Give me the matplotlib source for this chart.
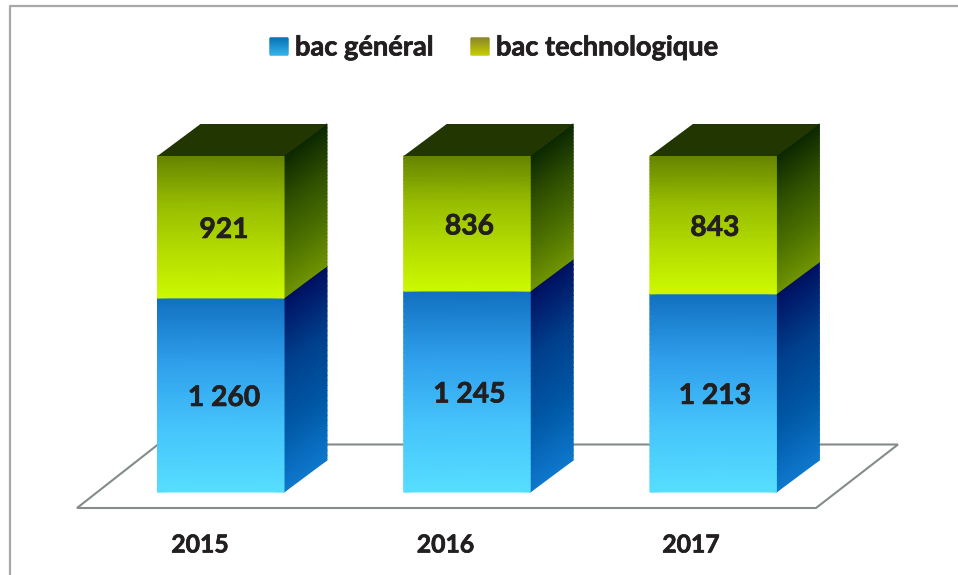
import numpy as np
from matplotlib import patheffects
from matplotlib import pyplot as plt
from matplotlib.colors import LinearSegmentedColormap
from matplotlib.patches import Polygon

years = ["2015", "2016", "2017"]
bac_general = [1260, 1245, 1213]
bac_techno = [921, 836, 843]
value_labels_general = ["1 260", "1 245", "1 213"]
value_labels_techno = ["921", "836", "843"]
legend_labels = ["bac général", "bac technologique"]

TEXT = "#231f20"
FONT = "Lato"
# Lato bold is a bit thinner than the type in the scan
HEAVY = [patheffects.withStroke(linewidth=0.5, foreground=TEXT)]

# the chart is a 100% stack, so one axes unit in y is the full bar height
PX_PER_CAT = 246.2
PX_PER_SHARE = 336.0
BAR_W = 126.5 / PX_PER_CAT
DEPTH_X = 43.0 / PX_PER_CAT
DEPTH_Y = 32.0 / PX_PER_SHARE

blue_front = LinearSegmentedColormap.from_list(
    "blue_front", ["#56deff", "#45c4fb", "#2f9fec", "#1170c0"]
)
blue_side = LinearSegmentedColormap.from_list(
    "blue_side", ["#0f78cc", "#0058a6", "#003f8c", "#001060"]
)
green_front = LinearSegmentedColormap.from_list(
    "green_front", ["#ccf900", "#b4dc00", "#96bc00", "#668400"]
)
green_side = LinearSegmentedColormap.from_list(
    "green_side", ["#6f9400", "#4c7000", "#2f5000", "#0c2800"]
)
swatch_blue = LinearSegmentedColormap.from_list("swatch_blue", ["#35b6ec", "#0a76b8"])
swatch_green = LinearSegmentedColormap.from_list(
    "swatch_green", ["#c9cf00", "#8e8c28"]
)


def px(x, y):
    """Picture pixels to data coordinates, for the decoration and the text."""
    return (x - 220.75) / PX_PER_CAT, (492.0 - y) / PX_PER_SHARE


def shade(ax, corners, cmap, zorder):
    """Fill a quad (bottom left, bottom right, top right, top left) with a gradient."""
    (x0, y0), (x1, y1), (x2, y2), (x3, y3) = corners
    t = np.linspace(0, 1, 40)
    xs = np.column_stack([x0 + (x3 - x0) * t, x1 + (x2 - x1) * t])
    ys = np.column_stack([y0 + (y3 - y0) * t, y1 + (y2 - y1) * t])
    c = np.column_stack([t, t])
    ax.pcolormesh(xs, ys, c, cmap=cmap, shading="gouraud", zorder=zorder, vmin=0, vmax=1)


def draw_segment(ax, x, y0, y1, front, side, zorder):
    left = x - BAR_W / 2
    right = x + BAR_W / 2
    shade(
        ax,
        [
            (right, y0),
            (right + DEPTH_X, y0 + DEPTH_Y),
            (right + DEPTH_X, y1 + DEPTH_Y),
            (right, y1),
        ],
        side,
        zorder,
    )
    shade(ax, [(left, y0), (right, y0), (right, y1), (left, y1)], front, zorder + 0.5)


def main():
    fig = plt.figure(figsize=(9.58, 5.75), dpi=100)
    ax = fig.add_axes([0, 0, 1, 1])
    ax.set_xlim(px(0, 0)[0], px(958, 0)[0])
    ax.set_ylim(px(0, 575)[1], px(0, 0)[1])
    ax.axis("off")

    # chart frame, only the top and left edges show in the scan
    ax.plot(*zip(px(10, 575), px(10, 5.5), px(958, 5.5)), color="#a8a8a8", lw=1.6, zorder=1)

    # floor
    floor = Polygon(
        [px(77, 508), px(816, 508), px(898, 444.5), px(158, 444.5)],
        closed=True,
        fill=False,
        edgecolor="#838c8a",
        lw=1.5,
        zorder=2,
    )
    ax.add_patch(floor)

    for i, year in enumerate(years):
        total = bac_general[i] + bac_techno[i]
        split = bac_general[i] / total

        draw_segment(ax, i, 0, split, blue_front, blue_side, 3)
        draw_segment(ax, i, split, 1, green_front, green_side, 4)

        left = i - BAR_W / 2
        right = i + BAR_W / 2
        roof = Polygon(
            [
                (left, 1),
                (right, 1),
                (right + DEPTH_X, 1 + DEPTH_Y),
                (left + DEPTH_X, 1 + DEPTH_Y),
            ],
            closed=True,
            facecolor="#213600",
            edgecolor="none",
            zorder=5,
        )
        ax.add_patch(roof)

        # labels sit a few pixels right of and below the face centre
        label_x = px(224 + 245.5 * i, 0)[0]
        nudge = 3.0 / PX_PER_SHARE
        ax.text(
            label_x, split / 2 - nudge, value_labels_general[i],
            ha="center", va="center", fontsize=20.3, fontweight="bold",
            family=FONT, color=TEXT, zorder=6, path_effects=HEAVY,
        )
        ax.text(
            label_x, (split + 1) / 2 - nudge, value_labels_techno[i],
            ha="center", va="center", fontsize=20.3, fontweight="bold",
            family=FONT, color=TEXT, zorder=6, path_effects=HEAVY,
        )
        ax.text(
            px(200 + 245.5 * i, 0)[0], px(0, 545)[1], year,
            ha="center", va="center", fontsize=17.8, fontweight="bold",
            family=FONT, color=TEXT, zorder=6, path_effects=HEAVY,
        )

    # legend
    entries = [(270, 295, swatch_blue), (471, 496, swatch_green)]
    for (box_x, text_x, cmap), label in zip(entries, legend_labels):
        shade(
            ax,
            [px(box_x, 55), px(box_x + 18, 55), px(box_x + 18, 38), px(box_x, 38)],
            cmap,
            6,
        )
        ax.text(
            px(text_x, 0)[0], px(0, 55.5)[1], label,
            ha="left", va="baseline", fontsize=19.6, fontweight="bold",
            family=FONT, color=TEXT, path_effects=HEAVY,
        )

    fig.savefig("out.png", dpi=100, facecolor="white")


if __name__ == "__main__":
    main()
